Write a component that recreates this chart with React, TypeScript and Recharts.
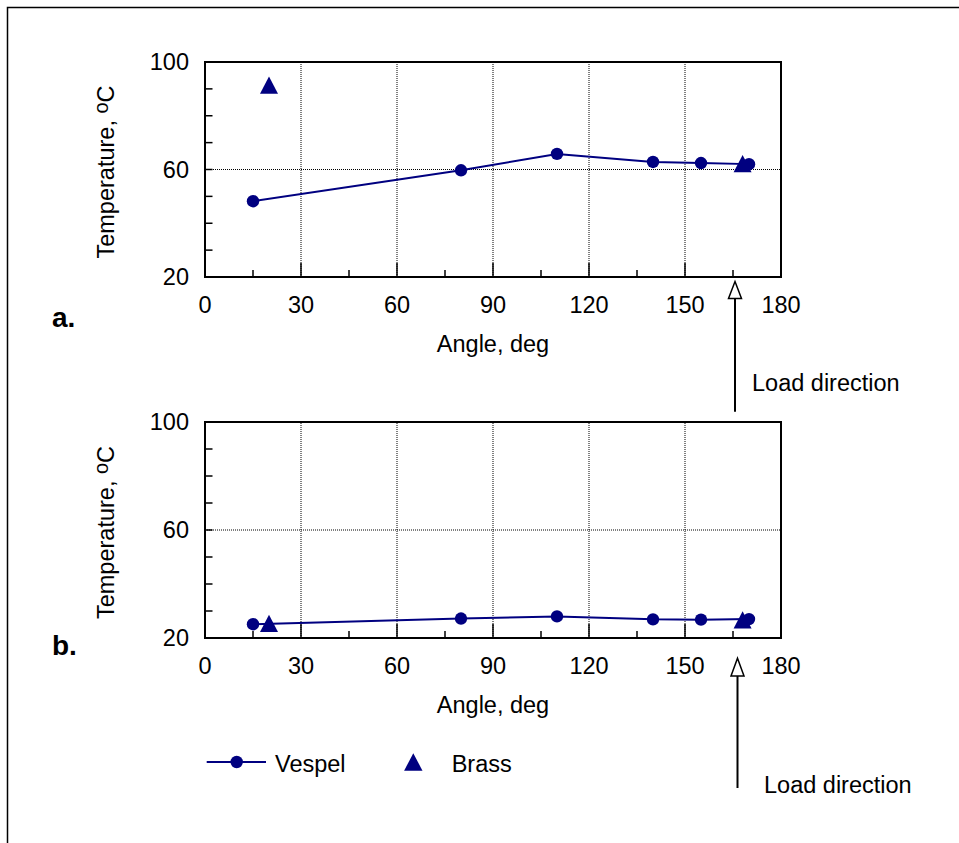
import { ScatterChart, Scatter, XAxis, YAxis, ReferenceLine, ReferenceArea, Label } from 'recharts';

const NAVY = '#000080';
const FONT = '"Liberation Sans", Arial, Helvetica, sans-serif';

// angle, deg
const vespelAngles = [15, 80, 110, 140, 155, 170];
const brassAngles = [20, 168];
// temperature, C  (panel a / panel b)
const vespelTempA = [48.2, 59.7, 65.8, 62.8, 62.4, 62.0];
const brassTempA = [91.4, 62.2];
const vespelTempB = [25.1, 27.2, 28.0, 26.9, 26.8, 27.0];
const brassTempB = [25.4, 26.7];

const xTicks = [0, 15, 30, 45, 60, 75, 90, 105, 120, 135, 150, 165, 180];
const xLabelTicks = [0, 30, 60, 90, 120, 150, 180];
const yTicks = [20, 30, 40, 50, 60, 70, 80, 90, 100];
const yLabelTicks = [20, 60, 100];
const xGrid = [30, 60, 90, 120, 150];
const yGrid = [60];

const toPoints = (xs: number[], ys: number[]) => xs.map((x, i) => ({ angle: x, temp: ys[i] }));

function XTick({ x, y, payload }: any) {
  const v = payload.value;
  const major = v % 30 === 0;
  const inner = v !== 0 && v !== 180;
  return (
    <g>
      {inner && <line x1={x} x2={x} y1={y} y2={y - (major ? 14 : 7)} stroke="#000" strokeWidth={1.5} />}
      {xLabelTicks.includes(v) && (
        <text x={x} y={y + 36} textAnchor="middle" fontSize={23.5} fontFamily={FONT} fill="#000">
          {v}
        </text>
      )}
    </g>
  );
}

function YTick({ x, y, payload }: any) {
  const v = payload.value;
  return (
    <g>
      {v !== 20 && v !== 100 && <line x1={x} x2={x + 7.5} y1={y} y2={y} stroke="#000" strokeWidth={1.5} />}
      {yLabelTicks.includes(v) && (
        <text x={x - 16} y={y + 8.3} textAnchor="end" fontSize={23.5} fontFamily={FONT} fill="#000">
          {v}
        </text>
      )}
    </g>
  );
}

const CircleDot = (p: any) => <circle cx={p.cx} cy={p.cy} r={6.2} fill={NAVY} />;
const TriangleDot = (p: any) => (
  <polygon
    points={`${p.cx},${p.cy - 8.7} ${p.cx + 9},${p.cy + 8.7} ${p.cx - 9},${p.cy + 8.7}`}
    fill={NAVY}
  />
);

function XTitle({ viewBox }: any) {
  return (
    <text x={viewBox.x + viewBox.width / 2} y={viewBox.y + 74.7} textAnchor="middle" fontSize={23.5} fontFamily={FONT} fill="#000">
      Angle, deg
    </text>
  );
}

function YTitle({ viewBox }: any) {
  const cx = 113.5;
  const cy = viewBox.y + viewBox.height / 2 + 2.5;
  return (
    <text x={cx} y={cy} transform={`rotate(-90, ${cx}, ${cy})`} textAnchor="middle" fontSize={23.5} fontFamily={FONT} fill="#000">
      Temperature,{' '}
      <tspan fontSize={20} dy={-6}>o</tspan>
      <tspan dy={6}>C</tspan>
    </text>
  );
}

function Panel({ vespel, brass, top, bottomMargin }: { vespel: number[]; brass: number[]; top: number; bottomMargin: number }) {
  return (
    <div style={{ position: 'absolute', left: 0, top }}>
      <ScatterChart width={959} height={400} margin={{ top: 62, right: 178, bottom: bottomMargin, left: 0 }}>
        <XAxis
          type="number"
          dataKey="angle"
          domain={[0, 180]}
          ticks={xTicks}
          interval={0}
          height={60}
          axisLine={false}
          tickLine={false}
          tickSize={0}
          tickMargin={0}
          tick={<XTick />}
        >
          <Label content={<XTitle />} />
        </XAxis>
        <YAxis
          type="number"
          dataKey="temp"
          domain={[20, 100]}
          ticks={yTicks}
          interval={0}
          width={205}
          axisLine={false}
          tickLine={false}
          tickSize={0}
          tickMargin={0}
          tick={<YTick />}
        >
          <Label content={<YTitle />} />
        </YAxis>
        {xGrid.map((g) => (
          <ReferenceLine key={'x' + g} x={g} stroke="#000" strokeWidth={1} strokeDasharray="1 1" />
        ))}
        {yGrid.map((g) => (
          <ReferenceLine key={'y' + g} y={g} stroke="#000" strokeWidth={1} strokeDasharray="1 1" />
        ))}
        <ReferenceArea x1={0} x2={180} y1={20} y2={100} fill="none" fillOpacity={0} stroke="#000" strokeWidth={2} />
        <Scatter
          name="Brass"
          data={toPoints(brassAngles, brass)}
          fill={NAVY}
          shape={TriangleDot}
          isAnimationActive={false}
        />
        <Scatter
          name="Vespel"
          data={toPoints(vespelAngles, vespel)}
          fill={NAVY}
          line={{ stroke: NAVY, strokeWidth: 2 }}
          lineType="joint"
          shape={CircleDot}
          isAnimationActive={false}
        />
      </ScatterChart>
    </div>
  );
}

export default function App() {
  const txt = { fontSize: 23.5, fontFamily: FONT, fill: '#000' };
  return (
    <div style={{ position: 'absolute', left: 0, top: 0, width: 959, height: 843, background: '#fff', overflow: 'hidden' }}>
      <Panel vespel={vespelTempA} brass={brassTempA} top={0} bottomMargin={63} />
      <Panel vespel={vespelTempB} brass={brassTempB} top={360} bottomMargin={62} />
      <svg width={959} height={843} style={{ position: 'absolute', left: 0, top: 0, pointerEvents: 'none' }}>
        <rect x={7.5} y={7.5} width={1000} height={1000} fill="none" stroke="#000" strokeWidth={1.5} />
        <text x={52} y={326.7} fontSize={28} fontWeight="bold" fontFamily={FONT} fill="#000">a.</text>
        <text x={52} y={655} fontSize={28} fontWeight="bold" fontFamily={FONT} fill="#000">b.</text>

        <line x1={735} x2={735} y1={298.5} y2={411.7} stroke="#000" strokeWidth={2} />
        <polygon points="735,281.5 741.5,298.5 728.5,298.5" fill="#fff" stroke="#000" strokeWidth={1.5} />
        <text x={752} y={391} {...txt}>Load direction</text>

        <line x1={737.5} x2={737.5} y1={676} y2={788} stroke="#000" strokeWidth={2} />
        <polygon points="737.5,658.3 744,676 731,676" fill="#fff" stroke="#000" strokeWidth={1.5} />
        <text x={764} y={793} {...txt}>Load direction</text>

        <line x1={206.7} x2={266} y1={762} y2={762} stroke={NAVY} strokeWidth={2} />
        <circle cx={236.7} cy={762} r={6.2} fill={NAVY} />
        <text x={275} y={771.7} {...txt}>Vespel</text>
        <polygon points="413.3,753.3 422.5,770.7 404.1,770.7" fill={NAVY} />
        <text x={451.7} y={771.7} {...txt}>Brass</text>
      </svg>
    </div>
  );
}
